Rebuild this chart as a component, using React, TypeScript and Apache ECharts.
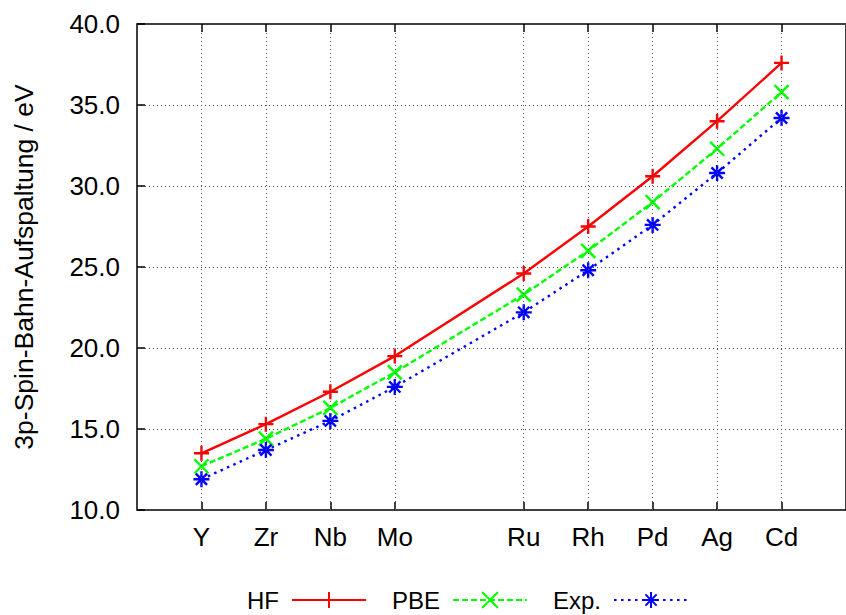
import React, { useEffect, useRef } from 'react';
import * as echarts from 'echarts';

const elements = ['Y', 'Zr', 'Nb', 'Mo', 'Ru', 'Rh', 'Pd', 'Ag', 'Cd'];
const atomicNumbers = [39, 40, 41, 42, 44, 45, 46, 47, 48];
const hfValues = [13.5, 15.3, 17.3, 19.5, 24.6, 27.5, 30.6, 34.0, 37.6];
const pbeValues = [12.7, 14.4, 16.3, 18.5, 23.3, 26.0, 29.0, 32.3, 35.8];
const expValues = [11.9, 13.7, 15.5, 17.6, 22.2, 24.8, 27.6, 30.8, 34.2];
const seriesNames = ['HF', 'PBE', 'Exp.'];
const yAxisTitle = '3p-Spin-Bahn-Aufspaltung / eV';

const FONT = '"Liberation Sans", Arial, Helvetica, sans-serif';

const PLUS = 'path://M0,5L10,5M5,0L5,10';
const CROSS = 'path://M0,0L10,10M0,10L10,0';
const STAR = 'path://M0,5L10,5M5,0L5,10M1.5,1.5L8.5,8.5M1.5,8.5L8.5,1.5';

export default function App() {
  const ref = useRef<HTMLDivElement>(null);

  useEffect(() => {
    document.body.style.margin = '0';
    if (!ref.current) return;
    const chart = echarts.init(ref.current, undefined, { renderer: 'svg' });

    const mk = (vals: number[]) => atomicNumbers.map((x, i) => [x, vals[i]]);

    const lineSeries = (
      name: string,
      vals: number[],
      color: string,
      symbol: string,
      type: any,
      size: number
    ) => ({
      name,
      type: 'line',
      data: mk(vals),
      z: 3,
      symbol,
      symbolSize: size,
      showSymbol: true,
      color,
      lineStyle: { color, width: 2.4, type },
      itemStyle: { color, borderColor: color, borderWidth: 2.4 },
      emphasis: { disabled: true },
    });

    const xAxisCommon = {
      type: 'value',
      min: 38,
      max: 49,
      interval: 1,
      axisLine: { show: false },
      splitLine: { show: false },
    };

    chart.setOption({
      animation: false,
      textStyle: { fontFamily: FONT },
      grid: {
        left: 137,
        top: 24,
        width: 714.7,
        height: 486,
        show: true,
        borderColor: '#000',
        borderWidth: 1.5,
        backgroundColor: 'transparent',
      },
      legend: {
        data: seriesNames,
        left: 242,
        top: 583,
        itemWidth: 74,
        itemHeight: 20,
        itemGap: 25,
        align: 'right',
        selectedMode: false,
        textStyle: { fontSize: 24, fontFamily: FONT, color: '#000', padding: [0, 8, 0, 0] },
      },
      xAxis: [
        {
          ...xAxisCommon,
          position: 'bottom',
          axisTick: {
            inside: true,
            length: 8,
            customValues: atomicNumbers,
            lineStyle: { color: '#000', width: 1.5 },
          },
          axisLabel: {
            customValues: atomicNumbers,
            formatter: (v: number) => {
              const i = atomicNumbers.indexOf(v);
              return i >= 0 ? elements[i] : '';
            },
            fontSize: 26,
            fontFamily: FONT,
            color: '#000',
            margin: 14,
          },
        },
        {
          ...xAxisCommon,
          position: 'top',
          axisTick: {
            inside: true,
            length: 8,
            customValues: atomicNumbers,
            lineStyle: { color: '#000', width: 1.5 },
          },
          axisLabel: { show: false },
        },
      ],
      yAxis: [
        {
          type: 'value',
          min: 10,
          max: 40,
          interval: 5,
          axisLine: { show: false },
          axisTick: { inside: true, length: 8, lineStyle: { color: '#000', width: 1.5 } },
          axisLabel: {
            formatter: (v: number) => v.toFixed(1),
            fontSize: 26,
            fontFamily: FONT,
            color: '#000',
            margin: 17,
          },
          splitLine: { show: true, lineStyle: { color: '#444', width: 1, type: [1, 3] } },
          name: yAxisTitle,
          nameLocation: 'middle',
          nameRotate: 90,
          nameGap: 100,
          nameTextStyle: { fontSize: 26.5, fontFamily: FONT, color: '#000' },
        },
      ],
      series: [
        {
          name: 'grid',
          type: 'line',
          data: [],
          z: 1,
          silent: true,
          markLine: {
            silent: true,
            symbol: ['none', 'none'],
            label: { show: false },
            lineStyle: { color: '#555', width: 1, type: [1, 3] },
            emphasis: { disabled: true },
            data: atomicNumbers.map((x) => ({ xAxis: x })),
          },
        },
        lineSeries(seriesNames[0], hfValues, '#ff0000', PLUS, 'solid', 15),
        lineSeries(seriesNames[1], pbeValues, '#00ff00', CROSS, [6, 3], 14),
        lineSeries(seriesNames[2], expValues, '#0000ff', STAR, [2.5, 4.5], 16),
      ],
    });

    return () => chart.dispose();
  }, []);

  return <div ref={ref} style={{ width: 846, height: 615 }} />;
}
